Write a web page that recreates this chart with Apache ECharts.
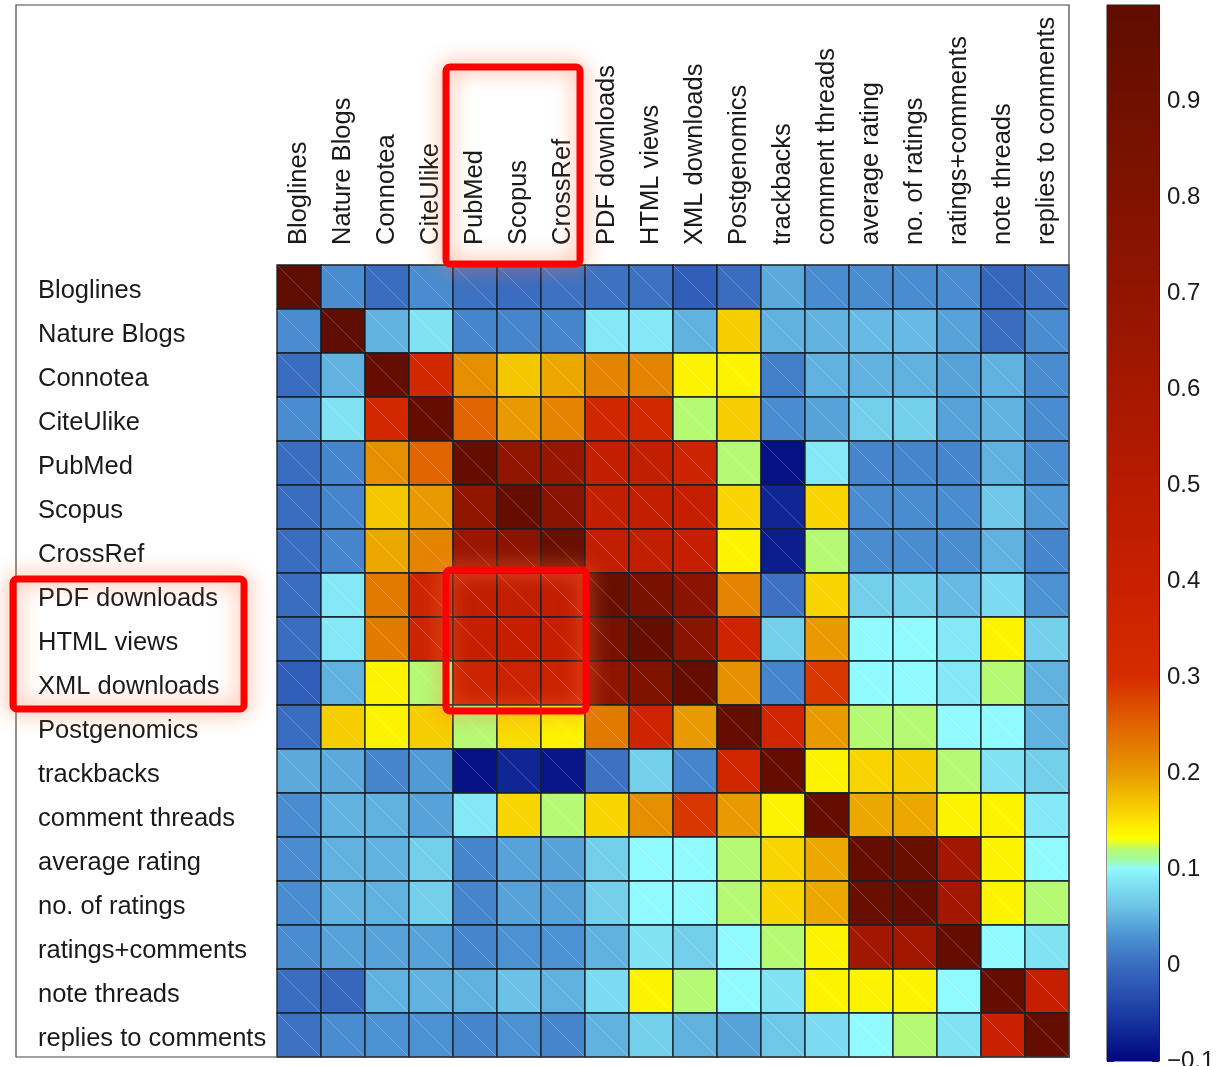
<!DOCTYPE html>
<html>
<head>
<meta charset="utf-8">
<script src="https://cdn.jsdelivr.net/npm/echarts@6/dist/echarts.min.js"></script>
<style>
  html, body { margin: 0; padding: 0; background: #fff; }
  #main { width: 1218px; height: 1066px; }
</style>
</head>
<body>
<div id="main"></div>
<script>
// 指标名称（行、列相同）
var labels = ['Bloglines', 'Nature Blogs', 'Connotea', 'CiteUlike', 'PubMed', 'Scopus', 'CrossRef',
  'PDF downloads', 'HTML views', 'XML downloads', 'Postgenomics', 'trackbacks', 'comment threads',
  'average rating', 'no. of ratings', 'ratings+comments', 'note threads', 'replies to comments'];

// 相关系数，每行一个数组
var rBloglines    = [1.00, 0.025, 0.00, 0.025, 0.005, 0.00, 0.005, 0.005, 0.005, -0.015, 0.00, 0.045, 0.025, 0.025, 0.025, 0.025, -0.005, 0.005];
var rNatureBlogs  = [0.025, 1.00, 0.05, 0.085, 0.02, 0.02, 0.02, 0.09, 0.09, 0.05, 0.165, 0.05, 0.05, 0.055, 0.055, 0.04, 0.00, 0.025];
var rConnotea     = [0.00, 0.05, 0.96, 0.33, 0.21, 0.17, 0.19, 0.22, 0.22, 0.14, 0.14, 0.015, 0.05, 0.05, 0.05, 0.04, 0.05, 0.025];
var rCiteUlike    = [0.025, 0.085, 0.33, 0.96, 0.25, 0.20, 0.22, 0.34, 0.33, 0.12, 0.165, 0.025, 0.04, 0.07, 0.07, 0.04, 0.05, 0.025];
var rPubMed       = [0.00, 0.02, 0.21, 0.25, 0.96, 0.70, 0.68, 0.44, 0.44, 0.37, 0.12, -0.09, 0.09, 0.02, 0.02, 0.02, 0.05, 0.025];
var rScopus       = [0.00, 0.02, 0.17, 0.20, 0.70, 0.96, 0.74, 0.44, 0.44, 0.42, 0.16, -0.07, 0.16, 0.025, 0.025, 0.025, 0.065, 0.035];
var rCrossRef     = [0.00, 0.02, 0.19, 0.22, 0.66, 0.74, 0.94, 0.44, 0.44, 0.42, 0.14, -0.08, 0.12, 0.025, 0.025, 0.025, 0.05, 0.02];
var rPdf          = [0.00, 0.09, 0.23, 0.37, 0.44, 0.44, 0.44, 0.94, 0.85, 0.74, 0.22, 0.005, 0.16, 0.07, 0.07, 0.055, 0.08, 0.03];
var rHtml         = [0.00, 0.09, 0.23, 0.37, 0.42, 0.42, 0.42, 0.85, 0.96, 0.75, 0.36, 0.07, 0.20, 0.10, 0.10, 0.09, 0.14, 0.07];
var rXml          = [-0.015, 0.05, 0.14, 0.12, 0.37, 0.38, 0.38, 0.72, 0.80, 0.96, 0.21, 0.02, 0.29, 0.10, 0.10, 0.09, 0.12, 0.05];
var rPostgenomics = [0.00, 0.165, 0.14, 0.165, 0.12, 0.155, 0.14, 0.23, 0.36, 0.20, 0.96, 0.35, 0.20, 0.12, 0.12, 0.10, 0.10, 0.05];
var rTrackbacks   = [0.045, 0.045, 0.02, 0.035, -0.09, -0.07, -0.085, 0.005, 0.07, 0.02, 0.35, 0.96, 0.14, 0.16, 0.165, 0.12, 0.085, 0.07];
var rComments     = [0.025, 0.05, 0.05, 0.04, 0.09, 0.16, 0.12, 0.16, 0.21, 0.29, 0.20, 0.14, 0.96, 0.19, 0.19, 0.14, 0.14, 0.09];
var rAvgRating    = [0.025, 0.05, 0.05, 0.07, 0.02, 0.04, 0.04, 0.07, 0.10, 0.10, 0.12, 0.16, 0.19, 0.96, 0.94, 0.62, 0.14, 0.10];
var rNumRatings   = [0.025, 0.05, 0.05, 0.07, 0.02, 0.04, 0.04, 0.07, 0.10, 0.10, 0.12, 0.16, 0.19, 0.94, 0.96, 0.62, 0.14, 0.12];
var rRatComments  = [0.025, 0.04, 0.04, 0.04, 0.02, 0.03, 0.03, 0.05, 0.085, 0.07, 0.10, 0.12, 0.14, 0.62, 0.62, 0.96, 0.10, 0.085];
var rNoteThreads  = [0.00, -0.005, 0.05, 0.05, 0.05, 0.06, 0.05, 0.08, 0.14, 0.12, 0.10, 0.085, 0.14, 0.14, 0.14, 0.10, 0.96, 0.42];
var rReplies      = [0.005, 0.025, 0.03, 0.03, 0.02, 0.03, 0.02, 0.05, 0.07, 0.05, 0.04, 0.065, 0.08, 0.10, 0.12, 0.085, 0.40, 0.96];

var matrix = [rBloglines, rNatureBlogs, rConnotea, rCiteUlike, rPubMed, rScopus, rCrossRef, rPdf, rHtml,
  rXml, rPostgenomics, rTrackbacks, rComments, rAvgRating, rNumRatings, rRatComments, rNoteThreads, rReplies];

// 色标范围和刻度
var cbMin = -0.1, cbMax = 1.0, cbStep = 0.1;

// 颜色表（类似 matlab jet 的变体）
var colorStops = [
  [-0.1, '#00067e'], [-0.05, '#1c3ca4'], [0.0, '#3a6cc0'], [0.03, '#4c92d2'], [0.06, '#6cc2e6'],
  [0.09, '#84e8f6'], [0.10, '#90faff'], [0.11, '#a2fca0'], [0.12, '#b6fa74'], [0.132, '#ffff00'],
  [0.16, '#f8d400'], [0.20, '#e89a00'], [0.25, '#e06400'], [0.30, '#d62c00'], [0.40, '#c82000'],
  [0.50, '#b81b00'], [0.60, '#a51800'], [0.70, '#921500'], [0.80, '#801300'], [0.90, '#701000'],
  [1.0, '#5e0d00']
];

function hexToRgb(h) {
  return [parseInt(h.substr(1, 2), 16), parseInt(h.substr(3, 2), 16), parseInt(h.substr(5, 2), 16)];
}
function colorAt(v) {
  for (var i = 1; i < colorStops.length; i++) {
    if (v <= colorStops[i][0] + 1e-9) {
      var a = colorStops[i - 1], b = colorStops[i];
      var t = (v - a[0]) / (b[0] - a[0]);
      var ca = hexToRgb(a[1]), cb = hexToRgb(b[1]);
      var c = ca.map(function (x, k) { return Math.round(x + (cb[k] - x) * t); });
      return 'rgb(' + c.join(',') + ')';
    }
  }
  return colorStops[colorStops.length - 1][1];
}
var jetColors = [];
for (var i = 0; i <= 440; i++) jetColors.push(colorAt(cbMin + i * (cbMax - cbMin) / 440));

var heatData = [];
matrix.forEach(function (row, r) {
  row.forEach(function (v, c) { heatData.push([c, r, v]); });
});

// 布局
var GRID_LEFT = 277, GRID_TOP = 265, CELL = 44, N = labels.length;
var FONT = 'Liberation Sans, Helvetica, Arial, sans-serif';
var LABEL_SIZE = 25.5;

var myChart = echarts.init(document.getElementById('main'));

function box(x, y, w, h) {
  return {
    type: 'rect', z: 100,
    shape: { x: x, y: y, width: w, height: h, r: 4 },
    style: { fill: null, stroke: '#ff0000', lineWidth: 7, shadowBlur: 20, shadowColor: 'rgba(255,120,70,0.8)' }
  };
}

var option = {
  backgroundColor: '#fff',
  animation: false,
  textStyle: { fontFamily: FONT },
  grid: [
    { left: GRID_LEFT, top: GRID_TOP, width: CELL * N, height: CELL * N, outerBoundsMode: 'none' },
    { left: 1107, top: 5, width: 52, height: 1056, show: true, borderColor: '#222', borderWidth: 1, outerBoundsMode: 'none' }
  ],
  xAxis: [
    {
      type: 'category', data: labels, position: 'top', gridIndex: 0,
      axisLine: { show: false }, axisTick: { show: false }, splitLine: { show: false },
      axisLabel: { rotate: -90, margin: 20, fontSize: LABEL_SIZE, color: '#1a1a1a', fontFamily: FONT, interval: 0 }
    },
    { type: 'category', data: ['cb'], gridIndex: 1, show: false }
  ],
  yAxis: [
    {
      type: 'category', data: labels, inverse: true, gridIndex: 0,
      axisLine: { show: false }, axisTick: { show: false }, splitLine: { show: false },
      axisLabel: {
        align: 'left', margin: GRID_LEFT - 38, interval: 0,
        formatter: function (v) { return '{t|' + v + '}'; },
        rich: { t: { fontSize: LABEL_SIZE, color: '#1a1a1a', fontFamily: FONT, padding: [8, 0, 0, 0] } }
      }
    },
    {
      type: 'value', gridIndex: 1, position: 'right', min: cbMin, max: cbMax, interval: cbStep,
      axisLine: { show: true, lineStyle: { color: '#222' } },
      axisTick: { show: true, inside: true, length: 7, lineStyle: { color: '#222' } },
      splitLine: { show: false },
      axisLabel: {
        margin: 8, fontSize: 24, color: '#1a1a1a', fontFamily: FONT,
        formatter: function (v) {
          if (v > 0.95) return '';
          return String(Math.round(v * 10) / 10).replace('-', '\u2212');
        }
      }
    },
    {
      type: 'value', gridIndex: 1, position: 'left', min: cbMin, max: cbMax, interval: cbStep,
      axisLine: { show: true, lineStyle: { color: '#222' } },
      axisTick: { show: true, inside: true, length: 7, lineStyle: { color: '#222' } },
      splitLine: { show: false }, axisLabel: { show: false }
    }
  ],
  visualMap: {
    type: 'continuous', show: false, min: cbMin, max: cbMax, dimension: 2, seriesIndex: 0,
    inRange: { color: jetColors }
  },
  series: [
    {
      name: 'corr', type: 'custom', xAxisIndex: 0, yAxisIndex: 0, data: heatData,
      encode: { x: 0, y: 1 },
      renderItem: function (params, api) {
        var p = api.coord([api.value(0), api.value(1)]);
        var s = api.size([1, 1]);
        var x0 = p[0] - s[0] / 2, y0 = p[1] - s[1] / 2;
        return {
          type: 'group',
          children: [
            { type: 'rect', shape: { x: x0, y: y0, width: s[0], height: s[1] }, style: { fill: api.visual('color') } },
            { type: 'line', shape: { x1: x0, y1: y0, x2: x0 + s[0], y2: y0 + s[1] },
              style: { stroke: 'rgba(255,255,255,0.22)', lineWidth: 1 } },
            { type: 'rect', shape: { x: x0, y: y0, width: s[0], height: s[1] },
              style: { fill: null, stroke: '#15202a', lineWidth: 1.3 } }
          ]
        };
      }
    },
    {
      name: 'colorbar', type: 'custom', xAxisIndex: 1, yAxisIndex: 1,
      data: [[0, cbMin, cbMax]], encode: { x: 0, y: [1, 2] }, silent: true,
      renderItem: function (params, api) {
        var top = api.coord([0, api.value(2)]);
        var bot = api.coord([0, api.value(1)]);
        var w = api.size([1, 0])[0];
        var stops = colorStops.map(function (s) {
          return { offset: (cbMax - s[0]) / (cbMax - cbMin), color: s[1] };
        }).reverse();
        return {
          type: 'rect',
          shape: { x: top[0] - w / 2, y: top[1], width: w, height: bot[1] - top[1] },
          style: { fill: new echarts.graphic.LinearGradient(0, 0, 0, 1, stops) }
        };
      }
    }
  ],
  graphic: [
    { type: 'rect', z: 90, shape: { x: 16, y: 5, width: GRID_LEFT + CELL * N - 16, height: GRID_TOP + CELL * N - 5 },
      style: { fill: null, stroke: '#444', lineWidth: 1.2 } },
    // 高亮框：PubMed/Scopus/CrossRef 列标签
    box(GRID_LEFT + 4 * CELL - 7, 67, 3 * CELL + 2, GRID_TOP - 68),
    // PDF/HTML/XML 行标签
    box(13, GRID_TOP + 7 * CELL + 6, 231, 3 * CELL - 2),
    // 矩阵中的区块
    box(GRID_LEFT + 4 * CELL - 7, GRID_TOP + 7 * CELL - 3, 3 * CELL + 8, 3 * CELL + 9)
  ]
};

myChart.setOption(option);
</script>
</body>
</html>
